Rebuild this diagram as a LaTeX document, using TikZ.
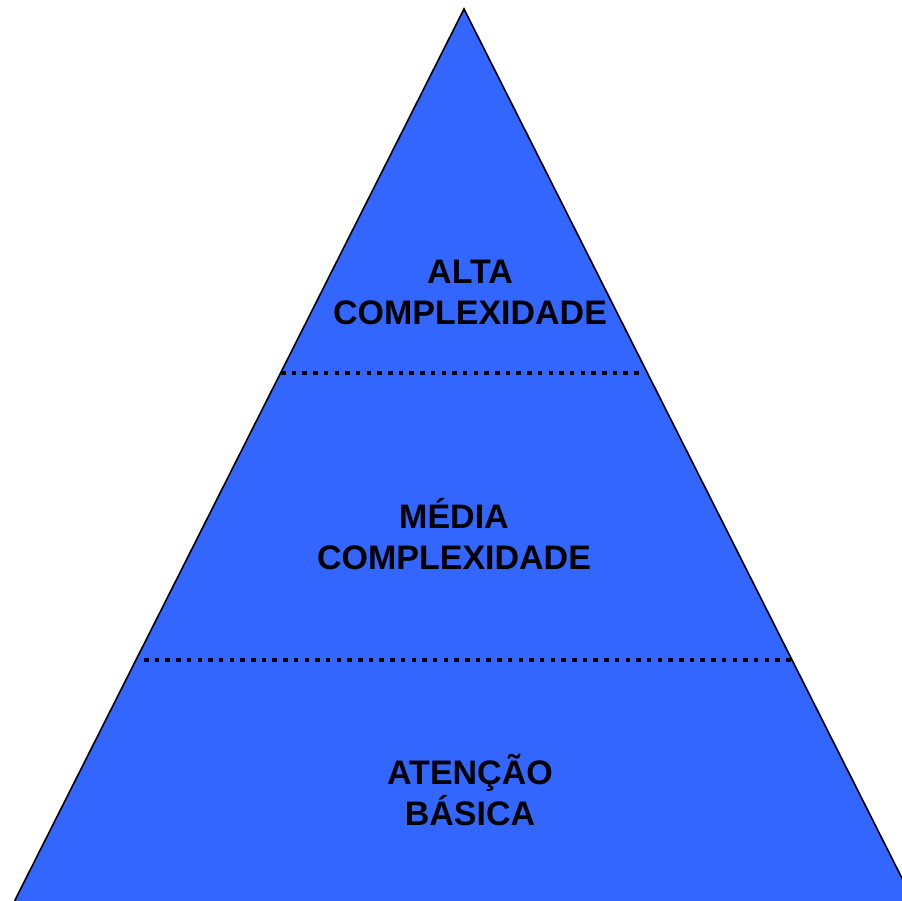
\documentclass[tikz,border=0pt]{standalone}
\usepackage{fontspec}
\setmainfont{Liberation Sans}
\usepackage{xcolor}
\usetikzlibrary{positioning}
\definecolor{pyrblue}{HTML}{3366FF}

\begin{document}
\begin{tikzpicture}[x=1pt, y=-1pt,
  level/.style={align=center, font=\fontsize{34}{41}\selectfont\bfseries},
  divider/.style={line width=4.5pt, dash pattern=on 4.5pt off 6.2pt}]
\useasboundingbox (0,0) rectangle (902,901);
\clip (0,0) rectangle (902,901);
% pyramid
\coordinate (apex) at (464,9);
\coordinate (baseleft) at (12,906);
\coordinate (baseright) at (916,906);
\filldraw[fill=pyrblue, draw=black, line width=1.6pt] (apex) -- (baseleft) -- (baseright) -- cycle;
% dividers
\coordinate (topl) at (281,373);
\coordinate (topr) at (639,373);
\coordinate (lowl) at (144,660);
\coordinate (lowr) at (791,660);
\draw[divider] (topl) -- (topr);
\draw[divider] (lowl) -- (lowr);
% levels
\node[level] (alta) at (470,292) {ALTA\\COMPLEXIDADE};
\node[level] (media) at (454,534) {MÉDIA\\COMPLEXIDADE};
\node[level] (basica) at (470,790) {ATENÇÃO\\BÁSICA};
\end{tikzpicture}
\end{document}
